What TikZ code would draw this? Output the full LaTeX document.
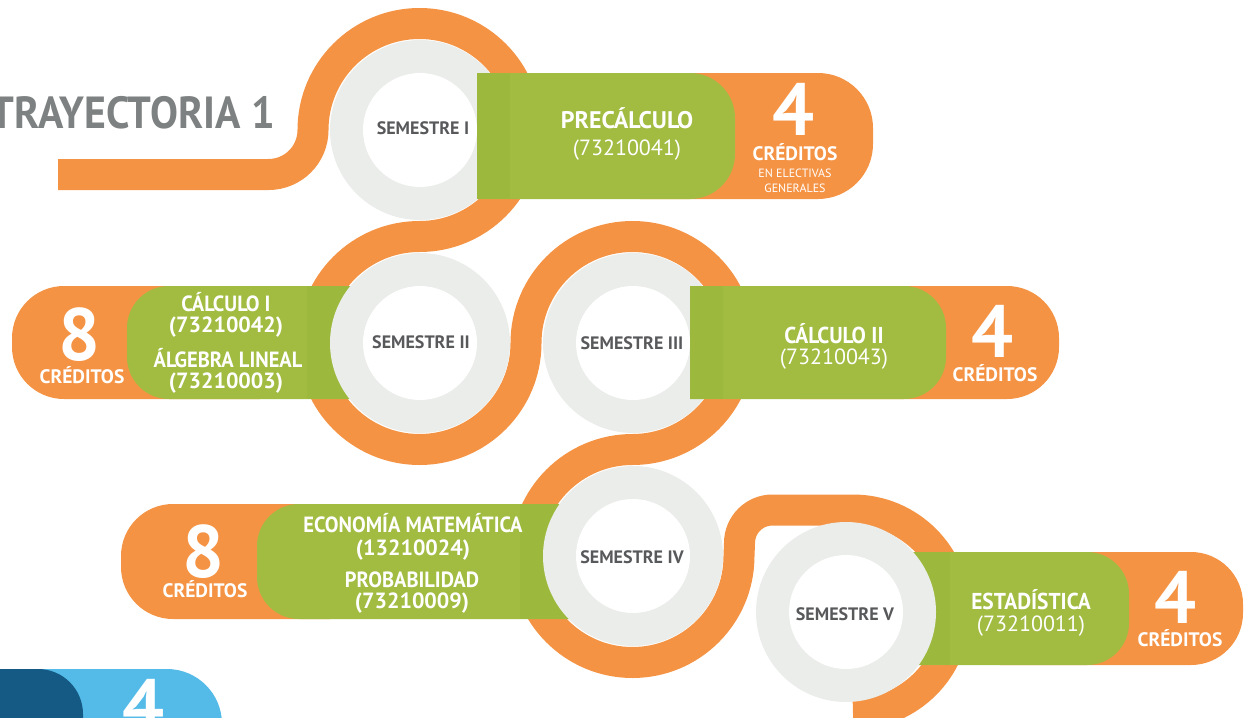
\documentclass[tikz,border=0pt]{standalone}
\usepackage{fontspec}
\setmainfont{PT Sans}
\newfontfamily\semifont[FakeStretch=0.93]{PT Sans}
\definecolor{orng}{HTML}{F59344}
\definecolor{grn}{HTML}{A1BC41}
\definecolor{grnd}{HTML}{9DB93D}
\definecolor{ringgray}{HTML}{EBEDEA}
\definecolor{semtext}{HTML}{58595B}
\definecolor{titlegray}{HTML}{7E8181}
\definecolor{lblue}{HTML}{54BBE8}
\definecolor{dblue}{HTML}{155A85}
\newcommand{\fsz}[1]{\fontsize{#1}{#1}\selectfont}
% right-rounded pill: style, x1, y1, x2, y2, radius
\newcommand{\pillR}[6]{\fill[#1] (#2,#3) -- ({#4-#6},#3) arc[start angle=270,end angle=360,radius=#6] -- (#4,{#5-#6}) arc[start angle=0,end angle=90,radius=#6] -- (#2,#5) -- cycle;}
% left-rounded pill: style, x1, y1, x2, y2, radius
\newcommand{\pillL}[6]{\fill[#1] (#4,#3) -- ({#2+#6},#3) arc[start angle=270,end angle=180,radius=#6] -- (#2,{#5-#6}) arc[start angle=180,end angle=90,radius=#6] -- (#4,#5) -- cycle;}
\begin{document}
\begin{tikzpicture}[x=1pt,y=-1pt,
  track/.style={draw=orng, line width=31pt, line cap=butt},
  graydisc/.style={fill=ringgray},
  whitedisc/.style={fill=white},
  semlabel/.style={font=\bfseries\fsz{18}, text=semtext, inner sep=0pt, anchor=base},
  bignum/.style={font=\bfseries\fsz{74}, text=white, inner sep=0pt, anchor=base},
  cred/.style={font=\bfseries\fsz{19.5}, text=white, inner sep=0pt, anchor=base},
  smalltxt/.style={font=\fsz{12}, text=white, inner sep=0pt, anchor=base},
  cname/.style={font=\semifont\bfseries\fsz{23}, text=white, inner sep=0pt, anchor=base},
  bigname/.style={font=\bfseries\fsz{24}, text=white, inner sep=0pt, anchor=base},
  ccode/.style={font=\fsz{22}, text=white, inner sep=0pt, anchor=base},
  dname/.style={font=\semifont\bfseries\fsz{22}, text=white, inner sep=0pt, anchor=base},
  dcode/.style={font=\bfseries\fsz{22}, text=white, inner sep=0pt, anchor=base},
  titletxt/.style={font=\semifont\bfseries\fsz{45}, text=titlegray, inner sep=0pt, anchor=base east}
]
\useasboundingbox (0,0) rectangle (1249,717);
\clip (0,0) rectangle (1249,717);

% ---------- orange track ----------
\draw[track] (58,174.5) -- (268.5,174.5)
  arc[start angle=90,end angle=0,radius=44.5]
  arc[start angle=180,end angle=450,radius=106.5]
  arc[start angle=270,end angle=0,radius=106.5]
  arc[start angle=180,end angle=450,radius=106.5]
  arc[start angle=270,end angle=0,radius=106.5]
  -- (739.5,543)
  arc[start angle=180,end angle=270,radius=33]
  -- (853,510)
  arc[start angle=270,end angle=450,radius=102];

% ---------- orange credit pills ----------
\pillR{orng}{640}{73}{873}{199}{55}
\pillL{orng}{12}{286}{260}{399}{52}
\pillR{orng}{800}{286}{1059}{399}{52}
\pillL{orng}{121}{504}{330}{619}{52}
\pillR{orng}{1000}{552}{1243}{665}{52}

% ---------- blue pills (bottom left) ----------
\pillR{lblue}{-10}{669}{222}{790}{55}
\pillR{dblue}{-10}{669}{83}{790}{45}
\node[bignum] (n6) at (143,731) {4};

% ---------- green bars under the gray rings (II, IV, V) ----------
\pillL{grn}{127}{286}{420}{399}{42}
\fill[grnd] (307,286) rectangle (420,399);
\pillL{grn}{257}{504}{633}{619}{42}
\fill[grnd] (520,504) rectangle (633,619);
\pillR{grn}{846}{552}{1129}{665}{42}
\fill[grnd] (846,552) rectangle (950,665);

% ---------- gray rings ----------
\fill[graydisc] (420,130) circle[radius=90];
\fill[graydisc] (420,343) circle[radius=90];
\fill[graydisc] (633,343) circle[radius=90];
\fill[graydisc] (633,556) circle[radius=90];
\fill[graydisc] (846,612) circle[radius=90];

% ---------- green bars over the gray rings (I, III) ----------
\pillR{grn}{477}{73}{735}{199}{45}
\fill[grnd] (477,73) rectangle (510,199);
\pillR{grn}{690}{286}{946}{399}{42}
\fill[grnd] (690,286) rectangle (723,399);

% ---------- white centres ----------
\fill[whitedisc] (420,130) circle[radius=57];
\fill[whitedisc] (420,343) circle[radius=57];
\fill[whitedisc] (633,343) circle[radius=57];
\fill[whitedisc] (633,556) circle[radius=57];
\fill[whitedisc] (846,612) circle[radius=57];

% ---------- title ----------
\node[titletxt] (title) at (275,128) {TRAYECTORIA 1};

% ---------- semester labels ----------
\node[semlabel] (s1) at (423,134) {SEMESTRE I};
\node[semlabel] (s2) at (421,348) {SEMESTRE II};
\node[semlabel] (s3) at (632,349) {SEMESTRE III};
\node[semlabel] (s4) at (632,563) {SEMESTRE IV};
\node[semlabel] (s5) at (845,620) {SEMESTRE V};

% ---------- row 1 ----------
\node[bigname] (c1) at (627,128) {PRECÁLCULO};
\node[ccode] (k1) at (627,155) {(73210041)};
\node[bignum] (n1) at (793,135) {4};
\node[cred] (r1) at (795,160) {CRÉDITOS};
\node[smalltxt] (e1) at (795,177) {EN ELECTIVAS};
\node[smalltxt] (e2) at (795,192) {GENERALES};

% ---------- row 2 left ----------
\node[bignum] (n2) at (79,360) {8};
\node[cred] (r2) at (82,383) {CRÉDITOS};
\node[dname] (c2a) at (226,311) {CÁLCULO I};
\node[dcode] (k2a) at (226,332) {(73210042)};
\node[dname] (c2b) at (228,367) {ÁLGEBRA LINEAL};
\node[dcode] (k2b) at (226,388) {(73210003)};

% ---------- row 2 right ----------
\node[cname] (c3) at (834,343) {CÁLCULO II};
\node[ccode] (k3) at (834,364) {(73210043)};
\node[bignum] (n3) at (992,357) {4};
\node[cred] (r3) at (995,381) {CRÉDITOS};

% ---------- row 4 ----------
\node[bignum] (n4) at (203,577) {8};
\node[cred] (r4) at (205,597) {CRÉDITOS};
\node[dname] (c4a) at (413,532) {ECONOMÍA MATEMÁTICA};
\node[dcode] (k4a) at (413,555) {(13210024)};
\node[dname] (c4b) at (412,587) {PROBABILIDAD};
\node[dcode] (k4b) at (412,608) {(73210009)};

% ---------- row 5 ----------
\node[cname] (c5) at (1031,609) {ESTADÍSTICA};
\node[ccode] (k5) at (1031,631) {(73210011)};
\node[bignum] (n5) at (1175,623) {4};
\node[cred] (r5) at (1180,646) {CRÉDITOS};
\end{tikzpicture}
\end{document}
